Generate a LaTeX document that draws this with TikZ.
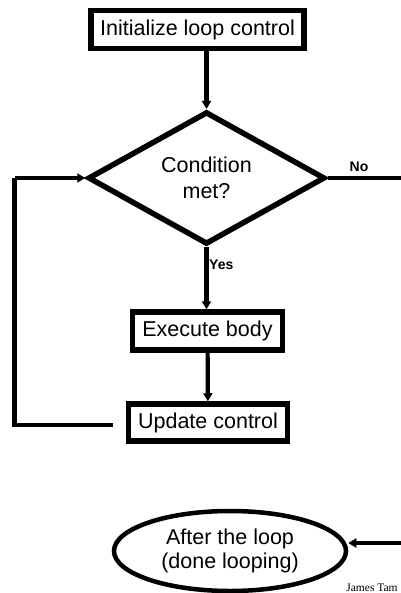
\documentclass[tikz,border=0pt]{standalone}
\usepackage{fontspec}
\setmainfont{Liberation Sans}
\newfontfamily\footfont{Liberation Serif}
\usetikzlibrary{shapes.geometric,arrows.meta}
\begin{document}
\begin{tikzpicture}[x=1pt,y=-1pt,
  box/.style={draw=black,line width=5.5pt,fill=white,inner sep=0pt,align=center,font=\fontsize{21.5}{26}\selectfont},
  conn/.style={draw=black,line width=4.2pt},
  tip/.style={-{Triangle[length=8pt,width=9pt]}},
  lbl/.style={font=\fontsize{14}{16}\selectfont\bfseries,inner sep=0pt}]
\useasboundingbox (0,0) rectangle (400,593);
\node[box,minimum width=213pt,minimum height=38pt] (init) at (197.5,29.5) {Initialize loop control};
\node[box,shape=diamond,minimum width=237pt,minimum height=119pt] (cond) at (206.5,178) {Condition\\met?};
\node[box,minimum width=150pt,minimum height=38pt] (exec) at (207.5,331) {Execute body};
\node[box,minimum width=159pt,minimum height=37pt] (upd) at (208,422.5) {Update control};
\node[box,shape=ellipse,minimum width=232pt,minimum height=80pt,line width=4.5pt,font=\fontsize{21.5}{24}\selectfont] (after) at (230,551) {After the loop\\(done looping)};
\node[lbl] (no) at (359,167) {No};
\node[lbl,anchor=west] (yes) at (209,265) {Yes};
\node[font=\fontsize{11.5}{13}\footfont,inner sep=0pt] (jt) at (372,588) {James Tam};
\coordinate (noend) at (401,178);
\coordinate (backin) at (401,543);
\coordinate (lc1) at (14.5,425);
\coordinate (lc2) at (14.5,178);
\draw[conn,tip] (init.south -| cond.north) -- (cond.north);
\draw[conn] (cond.east) -- (noend);
\draw[conn,tip] (cond.south) -- (exec.north -| cond.south);
\draw[conn,tip] (exec) -- (upd);
\draw[conn,shorten <=13pt] (upd.west |- lc1) -- (lc1) -- (lc2);
\draw[conn,tip] (lc2) -- (cond.west);
\draw[conn,tip] (backin) -- (backin -| after.east);
\end{tikzpicture}
\end{document}
